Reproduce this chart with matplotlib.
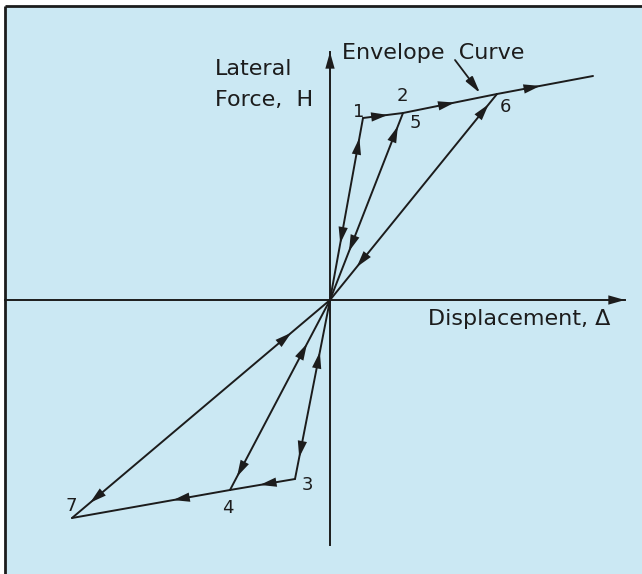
import matplotlib
matplotlib.use("Agg")
import matplotlib.pyplot as plt
from matplotlib.patches import Rectangle

# ---- data (displacement, force) in arbitrary units ----
point_names = ["O", "1", "2", "3", "4", "5", "6", "7", "E"]
disp  = [0.0, 3.3, 7.3, -3.5, -10.0, 7.3, 16.7, -25.8, 26.3]
force = [0.0, 18.2, 18.7, -17.9, -19.0, 18.7, 20.6, -21.8, 22.4]
P = {n: (d, f) for n, d, f in zip(point_names, disp, force)}

# segments drawn (start, end)
segments = [("O", "1"), ("1", "2"), ("2", "6"), ("6", "E"),
            ("O", "5"), ("O", "6"),
            ("O", "3"), ("3", "4"), ("4", "7"),
            ("O", "4"), ("O", "7")]

# arrowheads: (from, to, fraction along path where the tip sits)
arrows = [("O", "1", 0.89), ("1", "O", 0.69),
          ("1", "2", 0.62),
          ("O", "5", 0.93), ("5", "O", 0.74),
          ("2", "6", 0.55), ("6", "E", 0.45),
          ("O", "6", 0.95), ("6", "O", 0.84),
          ("O", "3", 0.88), ("3", "O", 0.71),
          ("3", "4", 0.54), ("4", "7", 0.36),
          ("O", "4", 0.93), ("4", "O", 0.77),
          ("O", "7", 0.93), ("7", "O", 0.85)]

# point label positions
label_text = ["1", "2", "5", "6", "3", "4", "7"]
label_x = [2.9, 7.2, 8.5, 17.5, -2.3, -10.2, -25.9]
label_y = [18.8, 20.4, 17.7, 19.3, -18.5, -20.8, -20.6]

x_axis = (-32.5, 29.5)
y_axis = (-24.5, 24.8)

BG = "#cbe8f3"
INK = "#1c1c1c"

fig = plt.figure(figsize=(6.42, 5.74), dpi=100)
fig.patch.set_facecolor("white")
ax = fig.add_axes([0, 0, 1, 1])
ax.set_xlim(-33.0, 31.2)
ax.set_ylim(-27.4, 30.0)
ax.axis("off")

# panel background & frame (top and left edges)
ax.add_patch(Rectangle((-32.5, -27.4), 70, 56.85, transform=ax.transData,
                       facecolor=BG, edgecolor="none", zorder=0))
ax.plot([-32.5, 31.2], [29.45, 29.45], color=INK, lw=2.0, zorder=1,
        solid_capstyle="butt")
ax.plot([-32.5, -32.5], [-27.4, 29.45], color=INK, lw=2.0, zorder=1,
        solid_capstyle="butt")

head = dict(arrowstyle="-|>,head_length=1.0,head_width=0.28",
            mutation_scale=12, color=INK, lw=0, shrinkA=0, shrinkB=0)

# axes
ax.plot(x_axis, [0, 0], color=INK, lw=1.4, zorder=2)
ax.plot([0, 0], y_axis, color=INK, lw=1.4, zorder=2)
ax.annotate("", xy=(x_axis[1], 0), xytext=(x_axis[1] - 2, 0), arrowprops=head)
ax.annotate("", xy=(0, y_axis[1]), xytext=(0, y_axis[1] - 2), arrowprops=head)

# paths
for a, b in segments:
    ax.plot([P[a][0], P[b][0]], [P[a][1], P[b][1]], color=INK, lw=1.4,
            zorder=3, solid_capstyle="round")

for a, b, t in arrows:
    x0, y0 = P[a]
    x1, y1 = P[b]
    tx, ty = x0 + t * (x1 - x0), y0 + t * (y1 - y0)
    bx, by = x0 + (t - 0.05) * (x1 - x0), y0 + (t - 0.05) * (y1 - y0)
    ax.annotate("", xy=(tx, ty), xytext=(bx, by), arrowprops=head, zorder=4)

# envelope pointer
ax.annotate("", xy=(15.0, 20.7), xytext=(12.5, 24.0),
            arrowprops=dict(arrowstyle="-|>,head_length=1.0,head_width=0.25",
                            mutation_scale=10, color=INK, lw=1.3,
                            shrinkA=0, shrinkB=0))

fs = 16
ax.text(1.2, 24.7, "Envelope  Curve", fontsize=fs, color=INK, va="center",
        ha="left")
ax.text(-11.5, 22.5, "Lateral", fontsize=fs, color=INK, va="baseline",
        ha="left")
ax.text(-11.5, 19.4, "Force,  H", fontsize=fs, color=INK, va="baseline",
        ha="left")
ax.text(9.8, -2.5, "Displacement, Δ", fontsize=fs, color=INK,
        va="baseline", ha="left")

for s, lx, ly in zip(label_text, label_x, label_y):
    ax.text(lx, ly, s, fontsize=13, color=INK, ha="center", va="center")

fig.savefig("out.png", dpi=100, facecolor=fig.get_facecolor())
